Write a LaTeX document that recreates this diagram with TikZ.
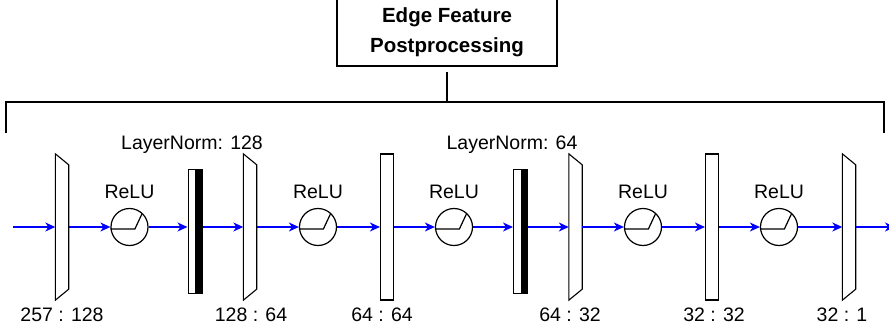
\documentclass[tikz,border=0pt]{standalone}
\usepackage{fontspec}
\setmainfont{Liberation Sans}
\usetikzlibrary{arrows.meta}

\tikzset{
  layer/.style={minimum width=13pt, minimum height=146pt, inner sep=0pt},
  plain/.style={layer, draw, line width=1.1pt},
  relu/.style={circle, draw, line width=1.2pt, minimum size=37pt, inner sep=0pt},
  norm/.style={draw, fill=white, line width=1pt, minimum width=14pt, minimum height=124pt, inner sep=0pt},
  flow/.style={blue, line width=1.3pt, -{Stealth[length=10pt,width=9pt,inset=3pt]}},
  lbl/.style={inner sep=0pt, anchor=base},
  heavy/.style={line width=2.3pt},
}

\begin{document}
\begin{tikzpicture}[x=1pt,y=-1pt,font=\fontsize{19.5}{23}\selectfont]
\useasboundingbox (0,0) rectangle (889,332);
% header box and bracket
\node [heavy, draw, minimum width=220pt, minimum height=67pt, align=center, font=\fontsize{20.5}{30}\selectfont\bfseries] (title) at (447,32.5) {Edge Feature\\Postprocessing};
\coordinate (stem) at (447,102);
\coordinate (brl) at (6,133);
\coordinate (brr) at (884,133);
\draw [heavy, shorten <=5pt] (title) -- (stem);
\draw [heavy] (brl) |- (stem) -| (brr);
% layers
\node [layer] (l1) at (62,227) {};
\node [relu] (relu1) at (129.5,227) {};
\node [norm] (ln1) at (195,231) {};
\node [layer] (l2) at (250,227) {};
\node [relu] (relu2) at (318,227) {};
\node [plain] (r3) at (387,227) {};
\node [relu] (relu3) at (454,227) {};
\node [norm] (ln2) at (520.5,231) {};
\node [layer] (l4) at (575.5,227) {};
\node [relu] (relu4) at (643,227) {};
\node [plain] (r5) at (712,227) {};
\node [relu] (relu5) at (779,227) {};
\node [layer] (l6) at (849,227) {};
\foreach \n in {l1,l2,l4,l6}
  \draw [line width=1.1pt] (\n.north west) -- ([yshift=-11pt]\n.north east) -- ([yshift=11pt]\n.south east) -- (\n.south west) -- cycle;
\foreach \n in {ln1,ln2}
  \fill (\n.north) rectangle (\n.south east);
\foreach \n in {relu1,relu2,relu3,relu4,relu5}
  \draw [line width=1.2pt] ([yshift=-2pt]\n.west) -- ++(24.5,0) -- ++(7,-15);
% connectors
\coordinate (src) at (13,227);
\coordinate (dst) at (895,227);
\draw [flow] (src) -- (src -| l1.west);
\foreach \a/\b in {l1/relu1,relu1/ln1,ln1/l2,l2/relu2,relu2/r3,r3/relu3,relu3/ln2,ln2/l4,l4/relu4,relu4/r5,r5/relu5,relu5/l6}
  \draw [flow] (\a.east |- src) -- (\b.west |- src);
\draw [flow] (l6) -- (dst);
% labels
\foreach \n/\x in {relu1/129.5,relu2/318,relu3/454,relu4/643,relu5/779}
  \node [lbl] (\n t) at (\x,198.5) {ReLU};
\node [lbl] (ln1t) at (192,149) {LayerNorm: 128};
\node [lbl] (ln2t) at (512,149) {LayerNorm: 64};
\node [lbl] (l1t) at (62,321) {257 : 128};
\node [lbl] (l2t) at (251,321) {128 : 64};
\node [lbl] (r3t) at (382,321) {64 : 64};
\node [lbl] (l4t) at (570,321) {64 : 32};
\node [lbl] (r5t) at (714,321) {32 : 32};
\node [lbl] (l6t) at (842,321) {32 : 1};
\end{tikzpicture}
\end{document}
